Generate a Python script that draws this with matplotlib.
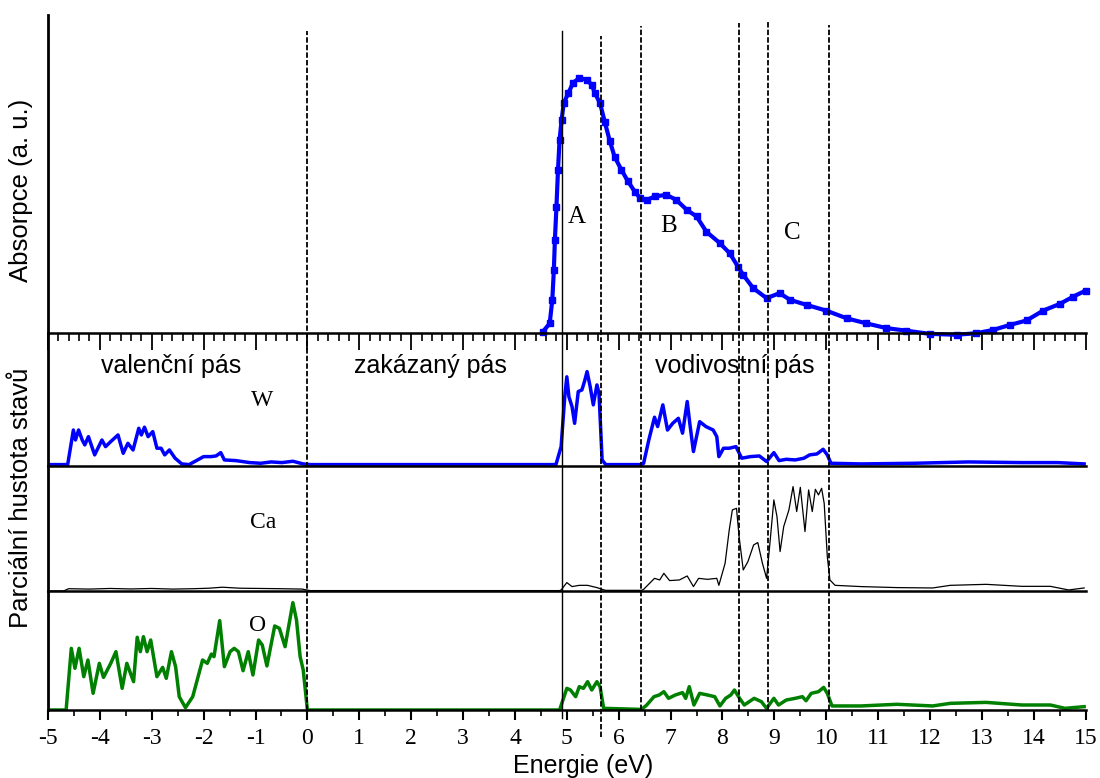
import numpy as np
import matplotlib.pyplot as plt
from matplotlib.ticker import MultipleLocator
from matplotlib.transforms import blended_transform_factory

plt.rcParams['axes.unicode_minus'] = False
plt.rcParams['font.family'] = 'Liberation Sans'

# absorption spectrum (a. u., 0 = baseline, 1 = top of panel)
abs_e = [4.54, 4.67, 4.72, 4.75, 4.77, 4.80, 4.83, 4.86, 4.90, 4.94, 5.03, 5.12, 5.24, 5.38, 5.48,
         5.54, 5.64, 5.73, 5.83, 5.92, 6.05, 6.18, 6.31, 6.41, 6.54, 6.70, 6.92, 7.11, 7.31, 7.50,
         7.69, 7.95, 8.14, 8.30, 8.40, 8.59, 8.85, 9.10, 9.30, 9.62, 10.00, 10.39, 10.77, 11.16,
         11.54, 11.99, 12.51, 12.89, 13.21, 13.54, 13.86, 14.18, 14.50, 14.76, 15.0]
abs_v = [0.004, 0.03, 0.104, 0.198, 0.292, 0.397, 0.513, 0.607, 0.67, 0.722, 0.754, 0.786, 0.801, 0.796, 0.78,
         0.754, 0.722, 0.664, 0.602, 0.554, 0.513, 0.476, 0.444, 0.424, 0.418, 0.429, 0.434, 0.418, 0.387, 0.366,
         0.318, 0.282, 0.25, 0.208, 0.182, 0.141, 0.109, 0.125, 0.104, 0.088, 0.07, 0.046, 0.03, 0.015,
         0.007, -0.003, -0.006, -0.001, 0.009, 0.025, 0.039, 0.07, 0.091, 0.114, 0.133]

# partial DOS, W
w_e = [-5.0, -4.62, -4.51, -4.47, -4.41, -4.34, -4.29, -4.22, -4.10, -3.96, -3.89, -3.79, -3.65, -3.55,
       -3.46, -3.36, -3.25, -3.20, -3.14, -3.07, -2.98, -2.90, -2.82, -2.75, -2.66, -2.55, -2.42, -2.28,
       -2.14, -2.00, -1.86, -1.76, -1.67, -1.60, -1.38, -1.11, -0.90, -0.70, -0.49, -0.28, -0.08, 0.06,
       4.79, 4.89, 4.96, 5.00, 5.04, 5.10, 5.15, 5.22, 5.29, 5.34, 5.39, 5.45, 5.51, 5.58, 5.62, 5.68,
       5.75, 6.44, 6.48, 6.58, 6.69, 6.75, 6.85, 6.94, 7.04, 7.15, 7.23, 7.32, 7.37, 7.44, 7.56, 7.68,
       7.82, 7.89, 7.93, 8.02, 8.13, 8.26, 8.37, 8.54, 8.71, 8.85, 8.99, 9.09, 9.23, 9.40, 9.57, 9.68,
       9.82, 9.94, 10.02, 10.09, 10.67, 11.70, 12.74, 13.77, 14.46, 14.97]
w_v = [0.01, 0.01, 0.27, 0.195, 0.27, 0.195, 0.158, 0.22, 0.083, 0.195, 0.145, 0.183, 0.233, 0.095,
       0.17, 0.12, 0.283, 0.233, 0.291, 0.22, 0.258, 0.133, 0.133, 0.083, 0.12, 0.058, 0.015, 0.01,
       0.04, 0.07, 0.07, 0.075, 0.1, 0.045, 0.04, 0.025, 0.02, 0.03, 0.025, 0.035, 0.015, 0.01,
       0.01, 0.145, 0.52, 0.67, 0.52, 0.446, 0.32, 0.559, 0.571, 0.634, 0.709, 0.596, 0.459, 0.609, 0.546, 0.045,
       0.01, 0.01, 0.02, 0.195, 0.366, 0.296, 0.459, 0.27, 0.32, 0.358, 0.246, 0.484, 0.32, 0.108, 0.333, 0.296,
       0.27, 0.22, 0.07, 0.133, 0.133, 0.145, 0.058, 0.07, 0.075, 0.033, 0.1, 0.04, 0.05, 0.045, 0.058, 0.083,
       0.09, 0.125, 0.083, 0.02, 0.015, 0.02, 0.03, 0.025, 0.025, 0.015]

# partial DOS, Ca
ca_e = [-5.0, -4.7, -4.6, -4.2, -3.8, -3.4, -3.0, -2.6, -2.2, -1.9, -1.64, -1.3, -0.9, -0.5, -0.1, 0.05,
        4.86, 4.89, 5.00, 5.10, 5.24, 5.40, 5.58, 5.68, 5.75, 6.44, 6.48, 6.69, 6.79, 6.87, 6.98, 7.17,
        7.32, 7.44, 7.54, 7.71, 7.89, 7.93, 8.05, 8.13, 8.19, 8.27, 8.32, 8.40, 8.49, 8.60, 8.68, 8.77,
        8.85, 8.92, 8.99, 9.05, 9.11, 9.18, 9.28, 9.36, 9.43, 9.50, 9.59, 9.66, 9.73, 9.79, 9.85, 9.91,
        9.96, 10.02, 10.07, 10.17, 10.67, 11.36, 12.05, 12.39, 13.08, 13.77, 14.32, 14.67, 14.97]
ca_v = [0.0, 0.0, 0.018, 0.015, 0.02, 0.016, 0.02, 0.015, 0.018, 0.022, 0.03, 0.022, 0.02, 0.018, 0.015, 0.003,
        0.003, 0.008, 0.067, 0.035, 0.045, 0.045, 0.027, 0.013, 0.005, 0.005, 0.013, 0.101, 0.088, 0.141, 0.083, 0.088,
        0.12, 0.035, 0.101, 0.093, 0.101, 0.045, 0.221, 0.488, 0.648, 0.661, 0.435, 0.168, 0.235, 0.368, 0.387, 0.221,
        0.101, 0.408, 0.728, 0.595, 0.315, 0.515, 0.648, 0.835, 0.635, 0.829, 0.475, 0.808, 0.635, 0.813, 0.768, 0.821,
        0.701, 0.275, 0.088, 0.045, 0.035, 0.027, 0.024, 0.045, 0.053, 0.037, 0.037, 0.008, 0.024]

# partial DOS, O
o_e = [-5.0, -4.65, -4.55, -4.48, -4.40, -4.31, -4.23, -4.13, -4.01, -3.93, -3.79, -3.69, -3.57, -3.48,
       -3.35, -3.28, -3.22, -3.16, -3.09, -3.02, -2.90, -2.79, -2.72, -2.62, -2.54, -2.47, -2.35, -2.21,
       -2.02, -1.93, -1.85, -1.80, -1.69, -1.60, -1.49, -1.41, -1.33, -1.24, -1.14, -1.05, -0.94, -0.87,
       -0.78, -0.63, -0.54, -0.43, -0.28, -0.21, -0.14, -0.08, 0.00,
       4.86, 5.00, 5.07, 5.17, 5.24, 5.32, 5.40, 5.48, 5.58, 5.64, 5.71, 6.44, 6.54, 6.68, 6.78, 6.87,
       6.96, 7.09, 7.23, 7.29, 7.36, 7.45, 7.56, 7.71, 7.85, 7.95, 8.06, 8.16, 8.23, 8.33, 8.42, 8.61,
       8.75, 8.85, 8.99, 9.08, 9.23, 9.40, 9.54, 9.61, 9.71, 9.85, 9.95, 10.02, 10.11, 10.67, 11.36,
       12.05, 12.39, 13.08, 13.77, 14.32, 14.60, 14.97]
o_v = [0.0, 0.0, 0.518, 0.35, 0.518, 0.28, 0.42, 0.14, 0.392, 0.274, 0.392, 0.49, 0.182, 0.392,
       0.238, 0.611, 0.49, 0.616, 0.49, 0.588, 0.28, 0.358, 0.266, 0.49, 0.364, 0.112, 0.02, 0.112,
       0.42, 0.392, 0.47, 0.448, 0.751, 0.364, 0.49, 0.518, 0.49, 0.33, 0.49, 0.294, 0.588, 0.546,
       0.37, 0.706, 0.686, 0.532, 0.902, 0.756, 0.448, 0.336, 0.0,
       0.0, 0.182, 0.168, 0.112, 0.196, 0.182, 0.238, 0.168, 0.238, 0.196, 0.014, 0.005, 0.042, 0.112, 0.126, 0.154,
       0.098, 0.126, 0.146, 0.098, 0.196, 0.042, 0.14, 0.126, 0.112, 0.034, 0.098, 0.126, 0.168, 0.098, 0.042, 0.098,
       0.07, 0.014, 0.098, 0.042, 0.084, 0.098, 0.112, 0.078, 0.14, 0.154, 0.19, 0.14, 0.034, 0.034, 0.048,
       0.034, 0.056, 0.064, 0.042, 0.042, 0.014, 0.028]

# band edges (eV)
edges = [0.0, 4.9, 5.65, 6.43, 8.31, 8.87, 10.05]

fig = plt.figure(figsize=(11, 7.78), dpi=100)
gs = fig.add_gridspec(4, 1, height_ratios=[318, 133, 125, 119], left=0.0436, right=0.987,
                      top=0.981, bottom=0.0874, hspace=0)
ax_a = fig.add_subplot(gs[0])
ax_w = fig.add_subplot(gs[1])
ax_ca = fig.add_subplot(gs[2])
ax_o = fig.add_subplot(gs[3])
axes = [ax_a, ax_w, ax_ca, ax_o]

for ax in axes:
    ax.patch.set_alpha(0)
    ax.spines['top'].set_visible(False)
    ax.spines['right'].set_visible(False)
    ax.spines['left'].set_linewidth(2)
    ax.spines['bottom'].set_linewidth(1.8)
    ax.set_yticks([])
    ax.set_ylim(0, 1)
    ax.set_xlim(-5, 15)

ax_a.plot(abs_e, abs_v, color='#0000ff', lw=3, marker='s', ms=4.5, clip_on=False)
ax_w.plot(w_e, w_v, color='#0000ff', lw=2.5)
ax_ca.plot(ca_e, ca_v, color='black', lw=0.9)
ax_o.plot(o_e, o_v, color='#008000', lw=2.5)

# ticks: top panel hangs 0.2 eV ticks into the W panel
ax_a.xaxis.set_major_locator(MultipleLocator(1))
ax_a.xaxis.set_minor_locator(MultipleLocator(0.2))
ax_a.tick_params(axis='x', which='major', direction='out', length=12, width=1.3, labelbottom=False)
ax_a.tick_params(axis='x', which='minor', direction='out', length=6, width=1.2)
for ax in [ax_w, ax_ca]:
    ax.tick_params(axis='x', which='both', bottom=False, labelbottom=False)
ax_o.set_xticks(range(-5, 16))
ax_o.set_xticklabels([str(v) for v in range(-5, 16)], family='Liberation Serif', fontsize=17)
ax_o.xaxis.set_minor_locator(MultipleLocator(0.5))
ax_o.tick_params(axis='x', which='major', direction='out', length=7, width=1.5, pad=6)
ax_o.tick_params(axis='x', which='minor', direction='out', length=4, width=1.2)

# band edges across all panels
trans = blended_transform_factory(ax_o.transData, fig.transFigure)
tops = [0.960, 0.960, 0.954, 0.967, 0.971, 0.973, 0.968]
for e, t in zip(edges, tops):
    if e == 4.9:
        ax_o.plot([e, e], [0.077, t], transform=trans, color='black', lw=1.0, clip_on=False)
    else:
        bot = 0.053 if e == 5.65 else 0.0874
        ax_o.plot([e, e], [bot, t], transform=trans, color='black', lw=1.3,
                  linestyle=(0, (3, 1.2)), clip_on=False)

# labels
ax_a.text(5.19, 0.365, 'A', family='Liberation Serif', fontsize=18, ha='center', va='center')
ax_a.text(6.97, 0.336, 'B', family='Liberation Serif', fontsize=18, ha='center', va='center')
ax_a.text(9.34, 0.314, 'C', family='Liberation Serif', fontsize=18, ha='center', va='center')
ax_w.text(-0.88, 0.49, 'W', family='Liberation Serif', fontsize=17, ha='center', va='center')
ax_ca.text(-0.86, 0.55, 'Ca', family='Liberation Serif', fontsize=17, ha='center', va='center')
ax_o.text(-0.97, 0.71, 'O', family='Liberation Serif', fontsize=17, ha='center', va='center')
ax_w.text(-2.62, 0.70, 'valenční pás', fontsize=18, ha='center', va='baseline')
ax_w.text(2.38, 0.70, 'zakázaný pás', fontsize=18, ha='center', va='baseline')
ax_w.text(8.24, 0.70, 'vodivostní pás', fontsize=18, ha='center', va='baseline')

fig.text(0.019, (778 - 190) / 778, 'Absorpce (a. u.)', rotation=90, fontsize=18.5, ha='center', va='center')
fig.text(0.019, (778 - 498) / 778, 'Parciální hustota stavů', rotation=90, fontsize=18.5,
         ha='center', va='center')
fig.text(0.530, 5 / 778, 'Energie (eV)', fontsize=18, ha='center', va='baseline')

fig.savefig('out.png', dpi=100)
